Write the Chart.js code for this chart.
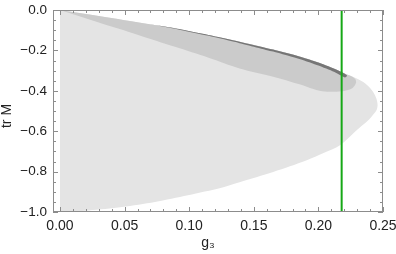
<!DOCTYPE html>
<html>
<head>
<meta charset="utf-8">
<script src="https://cdn.jsdelivr.net/npm/chart.js@4"></script>
<style>
  html, body { margin: 0; padding: 0; background: #fff; }
  canvas { display: block; }
</style>
</head>
<body>
<canvas id="c" width="396" height="254"></canvas>
<script>
// axis ticks
const xTicks = [0, 0.05, 0.10, 0.15, 0.20, 0.25];
const yTicks = [-1.0, -0.8, -0.6, -0.4, -0.2, 0.0];
const xMin = -0.0054;

// outer (light) region: upper edge then lower edge back to g = 0
const lightG = [0, 0.03, 0.06, 0.089, 0.115, 0.139, 0.165, 0.186, 0.200, 0.212, 0.2205, 0.228, 0.235, 0.240, 0.2435, 0.2452, 0.2458,
                0.2452, 0.2428, 0.238, 0.2296, 0.2167, 0.204, 0.191, 0.178, 0.165, 0.139, 0.125, 0.099, 0.0735, 0.048, 0.022, 0];
const lightT = [0, -0.030, -0.061, -0.091, -0.124, -0.157, -0.196, -0.231, -0.260, -0.290, -0.314, -0.334, -0.358, -0.386, -0.418, -0.445, -0.470,
                -0.492, -0.515, -0.550, -0.595, -0.669, -0.708, -0.744, -0.774, -0.802, -0.853, -0.880, -0.917, -0.950, -0.975, -0.992, -1.0];

// middle region
const midG = [0, 0.03, 0.06, 0.089, 0.115, 0.139, 0.165, 0.186, 0.200, 0.212, 0.2205, 0.2255, 0.2285, 0.2292, 0.228, 0.2255, 0.220,
              0.212, 0.203, 0.194, 0.186, 0.165, 0.139, 0.115, 0.089, 0.06, 0.03];
const midT = [0, -0.030, -0.061, -0.091, -0.124, -0.157, -0.196, -0.231, -0.260, -0.290, -0.316, -0.328, -0.342, -0.358, -0.375, -0.390, -0.401,
              -0.405, -0.402, -0.387, -0.369, -0.330, -0.289, -0.236, -0.182, -0.122, -0.062];

// thin dark strip along the upper edge
const darkG = [0.07, 0.09, 0.115, 0.139, 0.165, 0.186, 0.200, 0.212, 0.2205, 0.2222,
               0.2205, 0.212, 0.200, 0.186, 0.165, 0.139, 0.115, 0.09];
const darkT = [-0.071, -0.092, -0.124, -0.157, -0.196, -0.231, -0.260, -0.290, -0.316, -0.326,
               -0.334, -0.306, -0.275, -0.244, -0.206, -0.164, -0.128, -0.094];

const gCut = 0.218;

function pts(xs, ys) {
  return xs.map((x, i) => ({ x: x, y: ys[i] }));
}

function region(xs, ys, color, order, tension) {
  return {
    data: pts(xs, ys),
    backgroundColor: color,
    borderColor: 'rgba(0,0,0,0)',
    borderWidth: 0,
    pointRadius: 0,
    fill: 'shape',
    tension: tension,
    order: order
  };
}

const fmtMinus = s => s.replace('-', '\u2212');

/* frame with inward ticks, axis titles */
const framePlugin = {
  id: 'frame',
  afterDraw(chart) {
    const ctx = chart.ctx;
    const a = chart.chartArea;
    const sx = chart.scales.x, sy = chart.scales.y;
    ctx.save();
    ctx.strokeStyle = '#8c8c8c';
    ctx.lineWidth = 1;
    ctx.strokeRect(a.left + 0.5, a.top + 0.5, a.right - a.left - 1, a.bottom - a.top - 1);

    ctx.beginPath();
    for (let i = 0; i <= 25; i++) {
      const v = i * 0.01;
      const px = Math.round(sx.getPixelForValue(v)) + 0.5;
      const len = i % 5 === 0 ? 5 : 3;
      ctx.moveTo(px, a.bottom); ctx.lineTo(px, a.bottom - len);
      ctx.moveTo(px, a.top); ctx.lineTo(px, a.top + len);
    }
    for (let i = 0; i <= 20; i++) {
      const v = -1 + i * 0.05;
      const py = Math.round(sy.getPixelForValue(v)) + 0.5;
      const len = i % 4 === 0 ? 5 : 3;
      ctx.moveTo(a.left, py); ctx.lineTo(a.left + len, py);
      ctx.moveTo(a.right, py); ctx.lineTo(a.right - len, py);
    }
    ctx.stroke();

    ctx.fillStyle = '#222';
    ctx.font = '14px "Liberation Sans", Arial, sans-serif';
    ctx.textAlign = 'center';
    ctx.textBaseline = 'middle';
    ctx.fillText('g\u2083', 208, 243);
    ctx.translate(7, 116);
    ctx.rotate(-Math.PI / 2);
    ctx.fillText('tr M', 0, 0);
    ctx.restore();
  }
};

new Chart(document.getElementById('c'), {
  type: 'line',
  data: {
    datasets: [
      {
        data: [{ x: gCut, y: -1 }, { x: gCut, y: 0 }],
        borderColor: '#16a816',
        borderWidth: 2,
        pointRadius: 0,
        fill: false,
        order: 0
      },
      region(darkG, darkT, '#767676', 1, 0.2),
      region(midG, midT, '#cbcbcb', 2, 0.3),
      region(lightG, lightT, '#e4e4e4', 3, 0.3)
    ]
  },
  options: {
    responsive: false,
    animation: false,
    layout: { padding: { left: 0, right: 13, top: 10, bottom: 0 } },
    scales: {
      x: {
        type: 'linear',
        min: xMin,
        max: 0.25,
        afterBuildTicks: s => { s.ticks = xTicks.map(v => ({ value: v })); },
        afterFit: s => { s.height = 42; s.paddingLeft = 0; s.paddingRight = 0; },
        grid: { display: false, drawTicks: false },
        border: { display: false },
        ticks: {
          padding: 6,
          maxRotation: 0,
          color: '#222',
          font: { family: '"Liberation Sans", Arial, sans-serif', size: 14 },
          callback: v => v.toFixed(2)
        }
      },
      y: {
        type: 'linear',
        min: -1,
        max: 0,
        afterBuildTicks: s => { s.ticks = yTicks.map(v => ({ value: v })); },
        afterFit: s => { s.width = 53; s.paddingTop = 0; s.paddingBottom = 0; },
        grid: { display: false, drawTicks: false },
        border: { display: false },
        ticks: {
          padding: 6,
          color: '#222',
          font: { family: '"Liberation Sans", Arial, sans-serif', size: 13.5 },
          callback: v => fmtMinus(v.toFixed(1))
        }
      }
    },
    plugins: {
      legend: { display: false },
      tooltip: { enabled: false }
    }
  },
  plugins: [framePlugin]
});
</script>
</body>
</html>
